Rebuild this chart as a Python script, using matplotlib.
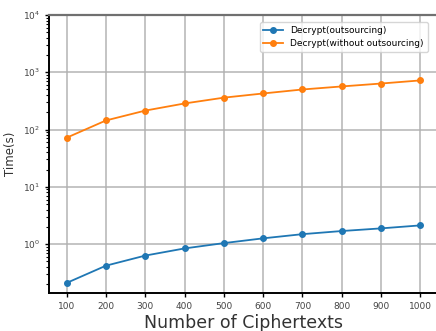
import matplotlib
matplotlib.use('Agg')
import matplotlib.pyplot as plt

num_ciphertexts = [100, 200, 300, 400, 500, 600, 700, 800, 900, 1000]
decrypt_outsourcing = [0.21, 0.42, 0.63, 0.84, 1.04, 1.26, 1.49, 1.69, 1.88, 2.12]
decrypt_without = [72, 144, 214, 285, 360, 426, 500, 565, 635, 720]

fig = plt.figure(figsize=(4.36, 3.31), dpi=100)
ax = fig.add_axes([0.1124, 0.1148, 0.892, 0.84])

ax.plot(num_ciphertexts, decrypt_outsourcing, marker='o', markersize=4,
        color='#1f77b4', linewidth=1.3, label='Decrypt(outsourcing)')
ax.plot(num_ciphertexts, decrypt_without, marker='o', markersize=4,
        color='#ff7f0e', linewidth=1.3, label='Decrypt(without outsourcing)')

ax.set_yscale('log')
ax.set_ylim(0.14, 1e4)
ax.set_xlim(55, 1045)
ax.set_xticks(num_ciphertexts)
ax.grid(True, color='#b0b0b0', linewidth=1.3, alpha=0.8)

ax.spines['right'].set_visible(False)
ax.spines['top'].set_color('#707070')
ax.spines['top'].set_linewidth(1.6)
ax.spines['left'].set_linewidth(1.4)
ax.spines['bottom'].set_linewidth(1.4)

ax.tick_params(axis='both', which='major', labelsize=6.5, labelcolor='#444444',
               length=3, width=1)
ax.tick_params(axis='y', which='minor', length=2, width=0.8)

ax.set_xlabel('Number of Ciphertexts', fontsize=12.5, color='#333333', labelpad=2)
ax.set_ylabel('Time(s)', fontsize=8.5, color='#333333', labelpad=4)

ax.legend(loc='upper right', fontsize=6.5, framealpha=0.8,
          bbox_to_anchor=(0.985, 0.99), handlelength=2.2)

fig.savefig('out.png', dpi=100)
